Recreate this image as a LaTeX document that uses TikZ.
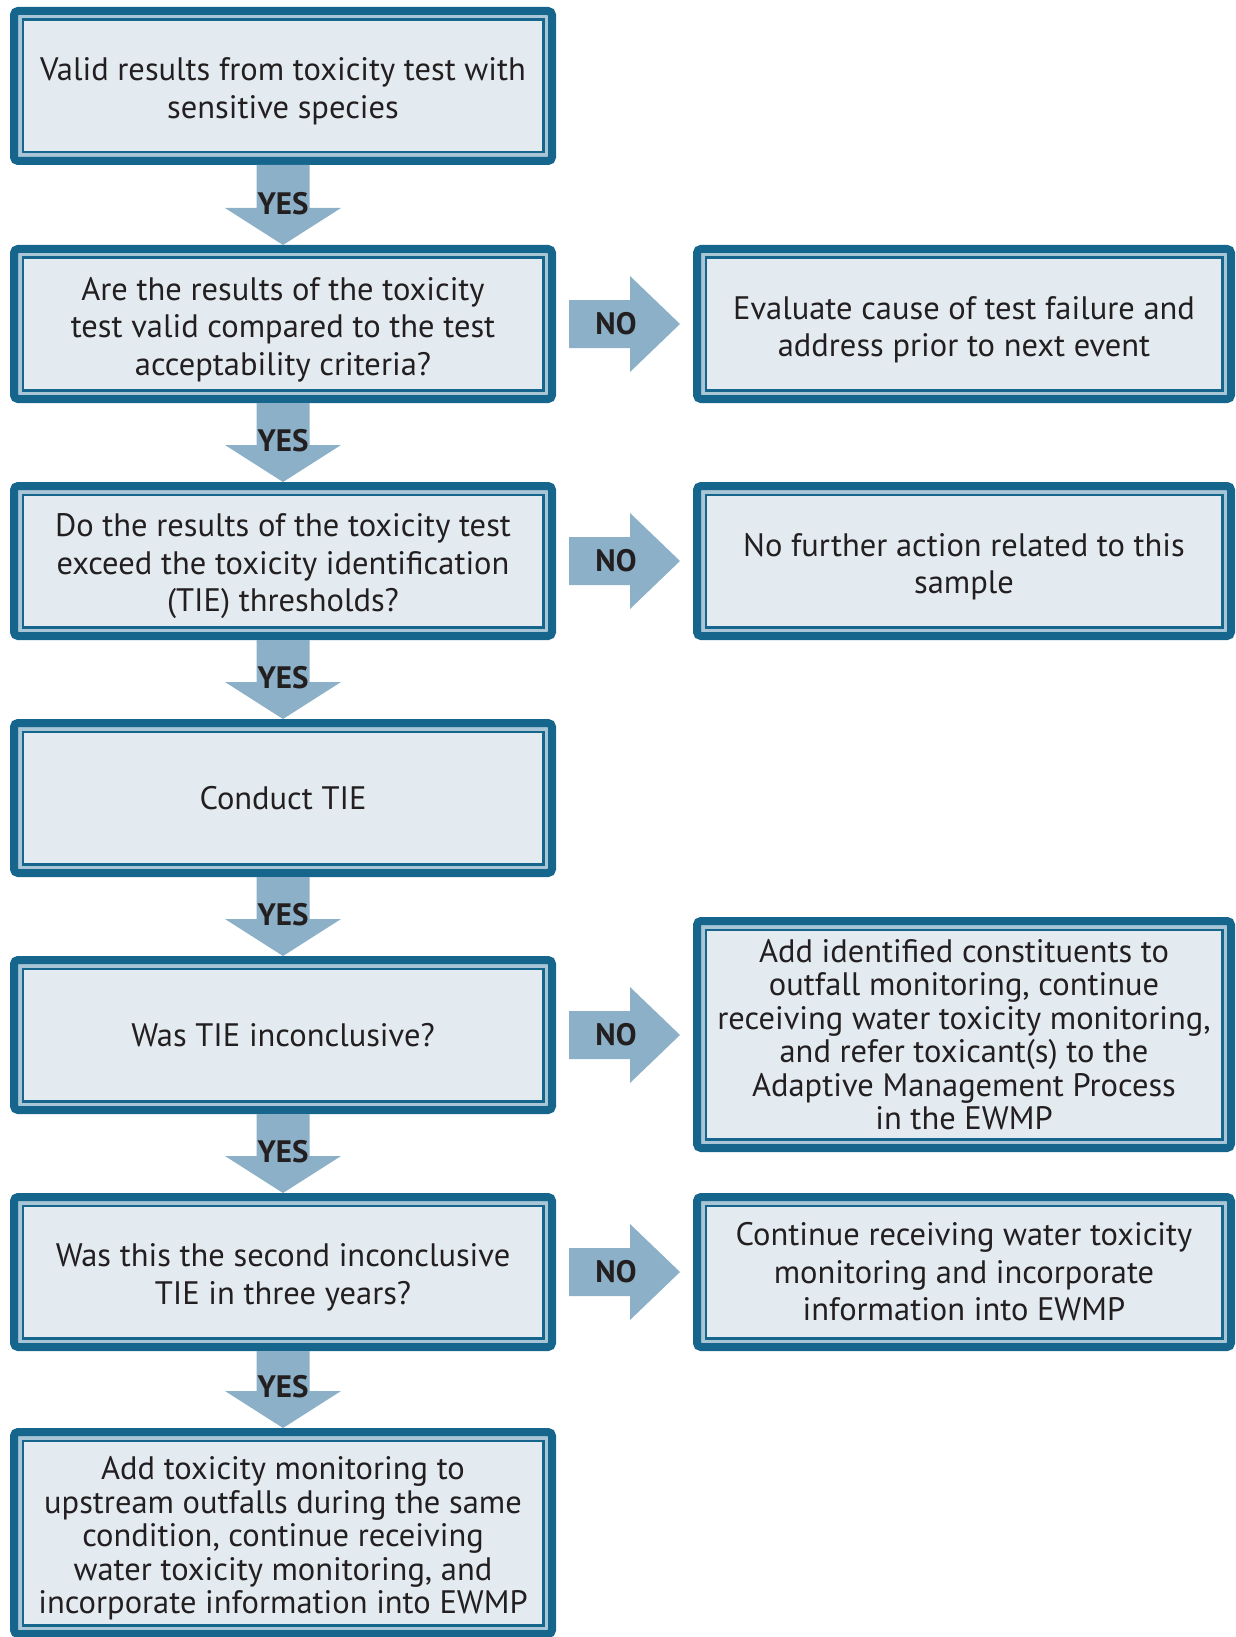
\documentclass[tikz,border=0pt]{standalone}
\usepackage{fontspec}
\setmainfont{PT Sans}
\usetikzlibrary{calc}
\definecolor{boxdark}{RGB}{22,101,140}
\definecolor{boxband}{RGB}{168,198,214}
\definecolor{boxfill}{RGB}{227,235,241}
\definecolor{arrowblue}{RGB}{139,176,199}
\definecolor{textdark}{RGB}{35,31,32}
\newcommand{\lift}{\rule{0pt}{34pt}}

\begin{document}
\begin{tikzpicture}[x=1pt,y=1pt,
  stepbox/.style={draw=boxdark,line width=8pt,fill=boxband,rounded corners=4pt,
    outer sep=0pt,inner sep=0pt,align=center,text=textdark,
    font=\fontsize{32.5pt}{37.5pt}\selectfont,
    path picture={\draw[boxdark,line width=2.5pt,fill=boxfill,sharp corners]
      ([shift={(8.75pt,-8.75pt)}]path picture bounding box.north west) rectangle
      ([shift={(-8.75pt,8.75pt)}]path picture bounding box.south east);}},
  leftbox/.style={stepbox,minimum width=538pt,minimum height=150pt},
  rightbox/.style={stepbox,minimum width=534pt,minimum height=150pt},
  tight/.style={font=\fontsize{32.5pt}{33.5pt}\selectfont},
  yeslabel/.style={font=\fontsize{31pt}{31pt}\selectfont\bfseries,text=textdark,inner sep=0pt},
  nolabel/.style={yeslabel}]
\useasboundingbox (0,0) rectangle (1235,-1637);

% main column
\node[leftbox] (valid) at (283,-86) {\lift Valid results from toxicity test with\\sensitive species};
\node[leftbox] (accept) at (283,-324) {\lift Are the results of the toxicity\\test valid compared to the test\\acceptability criteria?};
\node[leftbox] (exceed) at (283,-561) {\lift Do the results of the toxicity test\\exceed the toxicity identification\\(TIE) thresholds?};
\node[leftbox] (conduct) at (283,-798) {Conduct TIE};
\node[leftbox] (inconcl) at (283,-1035) {Was TIE inconclusive?};
\node[leftbox] (second) at (283,-1272) {\lift Was this the second inconclusive\\TIE in three years?};
\node[leftbox,tight,minimum height=202pt] (upstream) at (283,-1533) {\lift Add toxicity monitoring to\\upstream outfalls during the same\\condition, continue receiving\\water toxicity monitoring, and\\incorporate information into EWMP};

% outcomes on the right
\node[rightbox] (failure) at (964,-324) {\lift Evaluate cause of test failure and\\address prior to next event};
\node[rightbox] (noaction) at (964,-561) {\lift No further action related to this\\sample};
\node[rightbox,tight,minimum height=227pt] (identified) at (964,-1034.5) {Add identified constituents to\\outfall monitoring, continue\\receiving water toxicity monitoring,\\and refer toxicant(s) to the\\Adaptive Management Process\\in the EWMP};
\node[rightbox] (continue) at (964,-1272) {Continue receiving water toxicity\\monitoring and incorporate\\information into EWMP};

% YES arrows
\foreach \a/\b in {valid/accept, accept/exceed, exceed/conduct, conduct/inconcl, inconcl/second, second/upstream} {
  \fill[arrowblue] let \p1=(\a.south), \p2=(\b.north) in
    (\x1-26.5pt,\y1-4pt) -- (\x1+26.5pt,\y1-4pt) -- (\x1+26.5pt,\y2+41pt) -- (\x1+58pt,\y2+41pt)
    -- (\x1,\y2+4pt) -- (\x1-58pt,\y2+41pt) -- (\x1-26.5pt,\y2+41pt) -- cycle;
  \path let \p1=(\a.south), \p2=(\b.north) in node[yeslabel] at (\x1,\y2+45pt) {YES};
}

% NO arrows
\foreach \a/\b in {accept/failure, exceed/noaction, inconcl/identified, second/continue} {
  \fill[arrowblue] let \p1=(\a.east), \p2=(\b.west) in
    (\x1+17pt,\y1+24pt) -- (\x2-67pt,\y1+24pt) -- (\x2-67pt,\y1+48pt) -- (\x2-17pt,\y1)
    -- (\x2-67pt,\y1-48pt) -- (\x2-67pt,\y1-24pt) -- (\x1+17pt,\y1-24pt) -- cycle;
  \path let \p1=(\a.east) in node[nolabel] at (\x1+64pt,\y1) {NO};
}
\end{tikzpicture}
\end{document}
